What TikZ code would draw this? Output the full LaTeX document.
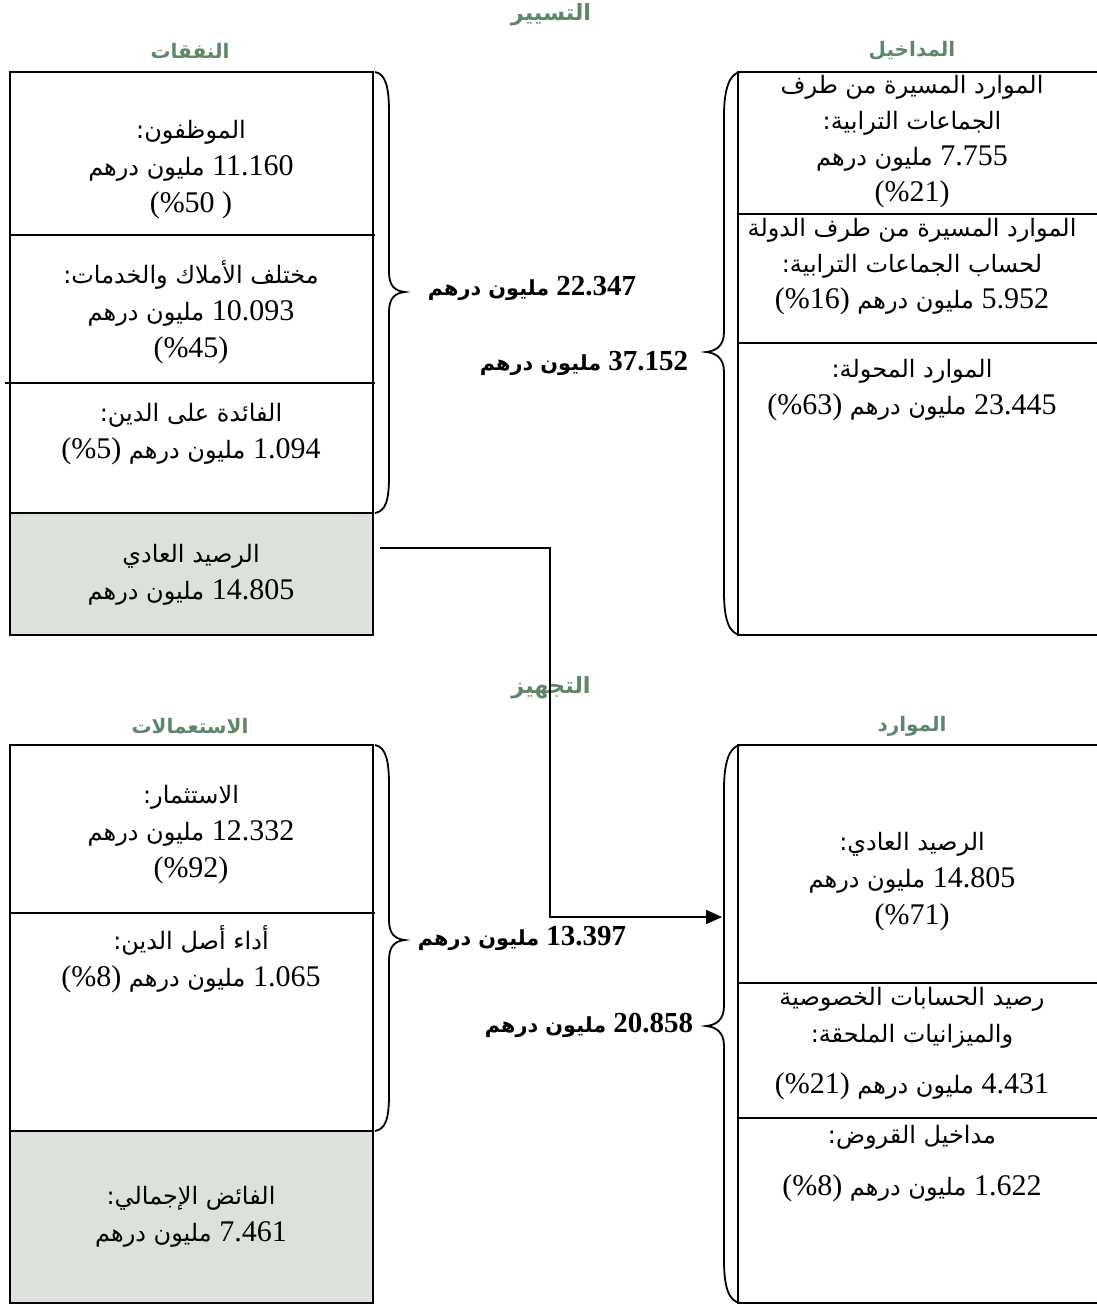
\documentclass[tikz,border=0pt]{standalone}
\usepackage{fontspec}
\setmainfont{Liberation Serif}
\newfontfamily\arabicfont[Script=Arabic,Scale=0.8]{DejaVu Sans}
\TeXXeTstate=1
\usetikzlibrary{arrows.meta}

\definecolor{headgreen}{RGB}{94,135,104}
\definecolor{soldegray}{RGB}{221,225,220}

\newcommand\ar[1]{{\arabicfont\beginR #1\endR}}
\newcommand\mdh[1]{\beginR\beginL #1\endL\ {\arabicfont مليون درهم}\endR}
\newcommand\mdhp[2]{\beginR\beginL #1\endL\ {\arabicfont مليون درهم} \beginL(\%#2)\endL\endR}
\newcommand\pct[1]{(\%#1)}
\newcommand\sumtxt[1]{\beginR\beginL #1\endL\ {\arabicfont\fontsize{26}{32}\selectfont مليون درهم}\endR}

\tikzset{
  boxline/.style={line width=1.6pt},
  brace/.style={line width=1.8pt},
  boxtext/.style={align=center, font=\fontsize{30}{37}\selectfont},
  heading/.style={text=headgreen, font=\bfseries\fontsize{25}{28}\selectfont},
  sumlabel/.style={font=\bfseries\fontsize{29}{32}\selectfont}
}

\begin{document}
\begin{tikzpicture}[x=1pt,y=-1pt]
\useasboundingbox (0,0) rectangle (1096,1306);

% titles
\node [heading, font=\bfseries\fontsize{28}{30}\selectfont] (tasyir) at (551,15) {\ar{التسيير}};
\node [heading, font=\bfseries\fontsize{28}{30}\selectfont] (tajhiz) at (551,688) {\ar{التجهيز}};
\node [heading] (nafaqat) at (190,51) {\ar{النفقات}};
\node [heading] (madakhil) at (912,51) {\ar{المداخيل}};
\node [heading] (istimalat) at (190,726) {\ar{الاستعمالات}};
\node [heading] (mawarid) at (912,726) {\ar{الموارد}};

% upper left box: expenses
\fill [soldegray] (10,513) rectangle (373,635);
\draw [boxline] (10,72) rectangle (373,635);
\draw [boxline] (10,235)--(375,235);
\draw [boxline] (5,383)--(375,383);
\draw [line width=2.2pt] (10,513)--(373,513);

\node [boxtext] (personnel) at (191,170) {\ar{الموظفون:}\\ \mdh{11.160}\\ (\%50\ )};
\node [boxtext] (biens) at (191,312) {\ar{مختلف الأملاك والخدمات:}\\ \mdh{10.093}\\ \pct{45}};
\node [boxtext] (interets) at (191,434) {\ar{الفائدة على الدين:}\\ \mdhp{1.094}{5}};
\node [boxtext] (solde) at (191,575) {\ar{الرصيد العادي}\\ \mdh{14.805}};

% upper right box: revenues
\draw [boxline] (1100,72)--(738,72)--(738,635)--(1100,635);
\draw [boxline] (738,214)--(1100,214);
\draw [boxline] (738,343)--(1100,343);

\node [boxtext, font=\fontsize{30}{36}\selectfont] (collect) at (912,142) {\ar{الموارد المسيرة من طرف}\\ \ar{الجماعات الترابية:}\\ \mdh{7.755}\\ \pct{21}};
\node [boxtext, font=\fontsize{30}{36}\selectfont] (etat) at (912,267) {\ar{الموارد المسيرة من طرف الدولة}\\ \ar{لحساب الجماعات الترابية:}\\ \mdhp{5.952}{16}};
\node [boxtext] (transf) at (912,390) {\ar{الموارد المحولة:}\\ \mdhp{23.445}{63}};

% braces upper part
\draw [brace] (375,72) .. controls (386,74) and (389,88) .. (389,112) -- (389,272)
  .. controls (389,286) and (395,291) .. (405,292) .. controls (395,293) and (389,298) .. (389,312)
  -- (389,476) .. controls (389,500) and (386,511) .. (375,513);
\draw [brace] (740,72) .. controls (729,74) and (724,90) .. (724,116) -- (724,332)
  .. controls (724,346) and (716,351) .. (706,352) .. controls (716,353) and (724,358) .. (724,372)
  -- (724,592) .. controls (724,620) and (729,633) .. (740,635);

\node [sumlabel] (totdep) at (532,288) {\sumtxt{22.347}};
\node [sumlabel] (totrec) at (584,363) {\sumtxt{37.152}};

% lower left box: uses
\fill [soldegray] (10,1131) rectangle (373,1303);
\draw [boxline] (10,745) rectangle (373,1303);
\draw [boxline] (10,913)--(375,913);
\draw [line width=2.2pt] (10,1131)--(373,1131);

\node [boxtext] (invest) at (191,835) {\ar{الاستثمار:}\\ \mdh{12.332}\\ \pct{92}};
\node [boxtext] (principal) at (191,959) {\ar{أداء أصل الدين:}\\ \mdhp{1.065}{8}};
\node [boxtext] (excedent) at (191,1217) {\ar{الفائض الإجمالي:}\\ \mdh{7.461}};

% lower right box: resources
\draw [boxline] (1100,745)--(738,745)--(738,1303)--(1100,1303);
\draw [boxline] (738,983)--(1100,983);
\draw [boxline] (738,1118)--(1100,1118);

\node [boxtext] (solde2) at (912,882) {\ar{الرصيد العادي:}\\ \mdh{14.805}\\ \pct{71}};
\node [boxtext] (speciaux) at (912,1044) {\ar{رصيد الحسابات الخصوصية}\\ \ar{والميزانيات الملحقة:}\\[14pt] \mdhp{4.431}{21}};
\node [boxtext] (emprunts) at (912,1164) {\ar{مداخيل القروض:}\\[15pt] \mdhp{1.622}{8}};

% braces lower part
\draw [brace] (375,745) .. controls (386,747) and (389,761) .. (389,785) -- (389,920)
  .. controls (389,934) and (395,939) .. (405,940) .. controls (395,941) and (389,946) .. (389,960)
  -- (389,1094) .. controls (389,1118) and (386,1129) .. (375,1131);
\draw [brace] (740,745) .. controls (729,747) and (724,763) .. (724,789) -- (724,1006)
  .. controls (724,1020) and (716,1025) .. (706,1026) .. controls (716,1027) and (724,1032) .. (724,1046)
  -- (724,1260) .. controls (724,1288) and (729,1301) .. (740,1303);

\node [sumlabel] (totemp) at (522,938) {\sumtxt{13.397}};
\node [sumlabel] (totres) at (589,1025) {\sumtxt{20.858}};

% transfer of the ordinary balance
\coordinate (solde-out) at (380,548);
\coordinate (coude) at (550,917);
\coordinate (res-in) at (722,917);
\draw [line width=1.8pt, -{Triangle[length=16pt,width=14pt]}] (solde-out) -| (coude) -- (res-in);

\end{tikzpicture}
\end{document}
